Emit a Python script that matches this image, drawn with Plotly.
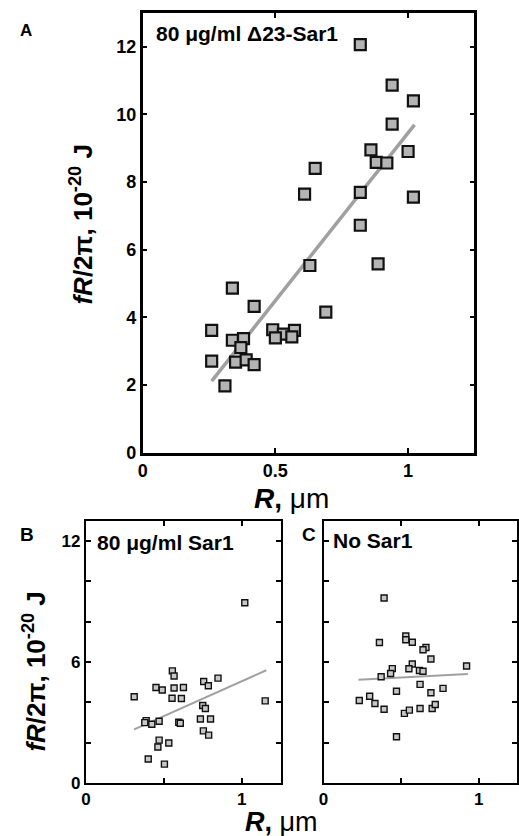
import plotly.graph_objects as go

# Panel A: 80 ug/ml delta23-Sar1
a_R = [0.82, 0.94, 1.02, 0.94, 0.86, 0.88, 0.92, 1.00, 0.65, 0.61, 0.82, 1.02, 0.82, 0.63, 0.887, 0.338,
       0.42, 0.69, 0.26, 0.49, 0.572, 0.53, 0.50, 0.562, 0.338, 0.38, 0.37, 0.26, 0.35, 0.39, 0.42, 0.31]
a_F = [12.06, 10.86, 10.40, 9.71, 8.95, 8.58, 8.56, 8.90, 8.40, 7.64, 7.69, 7.55, 6.72, 5.53, 5.58, 4.86,
       4.32, 4.15, 3.61, 3.63, 3.61, 3.50, 3.39, 3.42, 3.32, 3.37, 3.10, 2.70, 2.67, 2.74, 2.60, 1.97]
a_fit_R = [0.26, 1.024]
a_fit_F = [2.11, 9.69]

# Panel B: 80 ug/ml Sar1
b_R = [1.02, 0.31, 0.555, 0.566, 0.45, 0.49, 0.566, 0.626, 0.553, 0.613, 0.756, 0.848, 0.786, 0.75, 0.767,
       1.151, 0.387, 0.378, 0.423, 0.47, 0.596, 0.606, 0.735, 0.80, 0.754, 0.788, 0.47, 0.462, 0.532, 0.40, 0.504]
b_F = [8.94, 4.27, 5.56, 5.30, 4.73, 4.61, 4.71, 4.73, 4.20, 4.19, 5.03, 5.20, 4.82, 3.84, 3.69,
       4.07, 3.09, 2.99, 2.91, 3.06, 3.01, 2.96, 3.17, 3.17, 2.58, 2.37, 2.12, 1.78, 1.98, 1.18, 0.93]
b_fit_R = [0.31, 1.158]
b_fit_F = [2.65, 5.59]

# Panel C: No Sar1
c_R = [0.39, 0.36, 0.53, 0.53, 0.572, 0.66, 0.641, 0.692, 0.572, 0.55, 0.618, 0.641, 0.443, 0.432, 0.371,
       0.922, 0.622, 0.77, 0.47, 0.692, 0.23, 0.297, 0.331, 0.39, 0.521, 0.553, 0.622, 0.70, 0.72, 0.47]
c_F = [9.18, 6.97, 7.29, 7.10, 6.98, 6.72, 6.61, 6.15, 5.90, 5.66, 5.58, 5.54, 5.67, 5.43, 5.27,
       5.80, 4.89, 4.69, 4.55, 4.47, 4.09, 4.30, 3.94, 3.65, 3.45, 3.61, 3.69, 3.69, 3.89, 2.29]
c_fit_R = [0.225, 0.93]
c_fit_F = [5.12, 5.40]

x_ticks = [0, 0.5, 1]
y_ticks = [0, 2, 4, 6, 8, 10, 12]

FONT = "Liberation Sans, Arial, Helvetica, sans-serif"
LINE_C = "#a0a0a0"
W, H = 519, 836

fig = go.Figure()

def add_panel(xs, ys, fx, fy, xa, ya, msize, mline, mfill, lw):
    fig.add_trace(go.Scatter(x=fx, y=fy, mode="lines", xaxis=xa, yaxis=ya,
                             line=dict(color=LINE_C, width=lw), showlegend=False, hoverinfo="skip"))
    fig.add_trace(go.Scatter(x=xs, y=ys, mode="markers", xaxis=xa, yaxis=ya, showlegend=False,
                             marker=dict(symbol="square", size=msize, color=mfill,
                                         line=dict(color="#111111", width=mline))))

add_panel(a_R, a_F, a_fit_R, a_fit_F, "x", "y", 11, 2.2, "#b4b4b4", 3.5)
add_panel(b_R, b_F, b_fit_R, b_fit_F, "x2", "y2", 6, 1.4, "#c8c8c8", 2)
add_panel(c_R, c_F, c_fit_R, c_fit_F, "x3", "y3", 6, 1.4, "#c8c8c8", 2)

def ax_common(lw):
    return dict(showline=True, linecolor="black", linewidth=lw, mirror="allticks",
                ticks="inside", ticklen=5, tickwidth=lw*0.8, tickcolor="black",
                showgrid=False, zeroline=False, fixedrange=True)

tf_a = dict(family=FONT, size=18, color="black", weight="bold")
tf_b = dict(family=FONT, size=17, color="black", weight="bold")

fig.update_layout(
    width=W, height=H, margin=dict(l=0, r=0, t=0, b=0),
    plot_bgcolor="white", paper_bgcolor="white",
    xaxis=dict(domain=[139/W, 474/W], range=[0, 1.25], anchor="y",
               tickvals=x_ticks, ticktext=["0", "0.5", "1"], tickfont=tf_a, **ax_common(2.5)),
    yaxis=dict(domain=[1-458/H, 1-13/H], range=[0, 13], anchor="x",
               tickvals=y_ticks, ticktext=[str(v) for v in y_ticks], tickfont=tf_a, **ax_common(2.5)),
    xaxis2=dict(domain=[81.7/W, 278.3/W], range=[0, 1.25], anchor="y2",
                tickvals=x_ticks, ticktext=["0", "", "1"], tickfont=tf_b, **ax_common(2)),
    yaxis2=dict(domain=[1-792.3/H, 1-527.3/H], range=[0, 13], anchor="x2",
                tickvals=y_ticks, ticktext=["0", "", "", "6", "", "", "12"], tickfont=tf_b, **ax_common(2)),
    xaxis3=dict(domain=[321.7/W, 0.997], range=[0, 1.25], anchor="y3",
                tickvals=x_ticks, ticktext=["0", "", "1"], tickfont=tf_b, **ax_common(2)),
    yaxis3=dict(domain=[1-792.3/H, 1-527.3/H], range=[0, 13], anchor="x3",
                tickvals=y_ticks, ticktext=[""]*7, tickfont=tf_b, **ax_common(2)),
)

def px_ann(text, x, y, size, xanchor="center", yanchor="middle", angle=0):
    fig.add_annotation(text=text, x=x/W, y=1-y/H, xref="paper", yref="paper",
                       xanchor=xanchor, yanchor=yanchor, showarrow=False, textangle=angle,
                       font=dict(family=FONT, size=size, color="black", weight="bold"))

ytitle = "<i>fR</i>/2π, 10<sup>-20</sup> J"
xtitle = "<i>R</i>, <span style='font-weight:normal'>μm</span>"

px_ann("A", 13, 31, 17, xanchor="left")
px_ann("B", 13, 541, 19, xanchor="left")
px_ann("C", 298, 541, 19, xanchor="left")
px_ann("80 μg/ml Δ23-Sar1", 150, 34, 21, xanchor="left")
px_ann("80 μg/ml Sar1", 91, 549, 21, xanchor="left")
px_ann("No Sar1", 329, 547, 21, xanchor="left")
px_ann(ytitle, 77, 227, 26, angle=-90)
px_ann(ytitle, 30, 680, 26, angle=-90)
px_ann(xtitle, 289, 505, 28)
px_ann(xtitle, 279, 832, 27)

fig.write_html("out.html", config={"displayModeBar": False},
               post_script="document.body.style.margin='0px';")
